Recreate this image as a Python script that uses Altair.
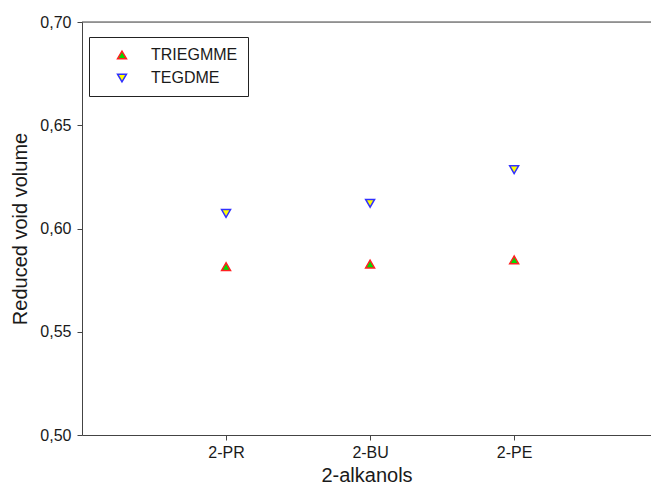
import altair as alt
import pandas as pd

categories = ["2-PR", "2-BU", "2-PE"]
cat_pos = [1, 2, 3]
triegmme = [0.5815, 0.5828, 0.5848]
tegdme = [0.6073, 0.6122, 0.6285]
series_names = ["TRIEGMME", "TEGDME"]

rows = []
for name, vals in zip(series_names, [triegmme, tegdme]):
    for c, p, v in zip(categories, cat_pos, vals):
        rows.append({"cat": c, "pos": p, "value": v, "series": name})
df = pd.DataFrame(rows)

FONT = "Liberation Sans"
AX = "#444444"
TXT = "#1a1a1a"

xscale = alt.Scale(domain=[0, 3.95], nice=False, zero=False)
yscale = alt.Scale(domain=[0.5, 0.7], nice=False, zero=False)

points = alt.Chart(df).mark_point(filled=True, size=80, strokeWidth=1.5, opacity=1).encode(
    x=alt.X("pos:Q", scale=xscale,
            axis=alt.Axis(values=cat_pos,
                          labelExpr="datum.value == 1 ? '2-PR' : datum.value == 2 ? '2-BU' : '2-PE'",
                          title="2-alkanols", grid=False, domainColor=AX, tickColor=AX,
                          tickSize=5, labelFont=FONT, labelFontSize=16, labelColor=TXT,
                          titleFont=FONT, titleFontSize=20, titleFontWeight="normal",
                          titleColor=TXT, labelPadding=4, titlePadding=5)),
    y=alt.Y("value:Q", scale=yscale,
            axis=alt.Axis(values=[0.5, 0.55, 0.6, 0.65, 0.7],
                          labelExpr="replace(format(datum.value, '.2f'), '.', ',')",
                          title="Reduced void volume", grid=False, domainColor=AX, tickColor=AX,
                          tickSize=5, labelFont=FONT, labelFontSize=16, labelColor=TXT,
                          titleFont=FONT, titleFontSize=20, titleFontWeight="normal",
                          titleColor=TXT, labelPadding=6, titlePadding=9)),
    shape=alt.Shape("series:N", scale=alt.Scale(domain=series_names, range=["triangle-up", "triangle-down"]),
                    legend=alt.Legend(title=None, orient="none", legendX=7, legendY=15,
                                      strokeColor="#222222", padding=10, symbolOffset=15,
                                      labelFont=FONT, labelFontSize=16, labelColor=TXT,
                                      labelOffset=21, rowPadding=7, symbolSize=80,
                                      symbolStrokeWidth=1.5, fillColor="white")),
    fill=alt.Fill("series:N", scale=alt.Scale(domain=series_names, range=["#00dd00", "#ffff00"]), legend=None),
    stroke=alt.Stroke("series:N", scale=alt.Scale(domain=series_names, range=["#ff2020", "#3030ff"]), legend=None),
)

top = alt.Chart(pd.DataFrame({"y": [0.7]})).mark_rule(color=AX, strokeWidth=1).encode(
    y=alt.Y("y:Q", scale=yscale)
)

chart = alt.layer(points, top).properties(
    width=569, height=413,
    autosize=alt.AutoSizeParams(type="none"),
    padding={"left": 82, "top": 22, "right": 0, "bottom": 51},
).configure_view(stroke=None).configure(background="white")

chart.save("out.html", embed_options={"renderer": "svg", "actions": False})
